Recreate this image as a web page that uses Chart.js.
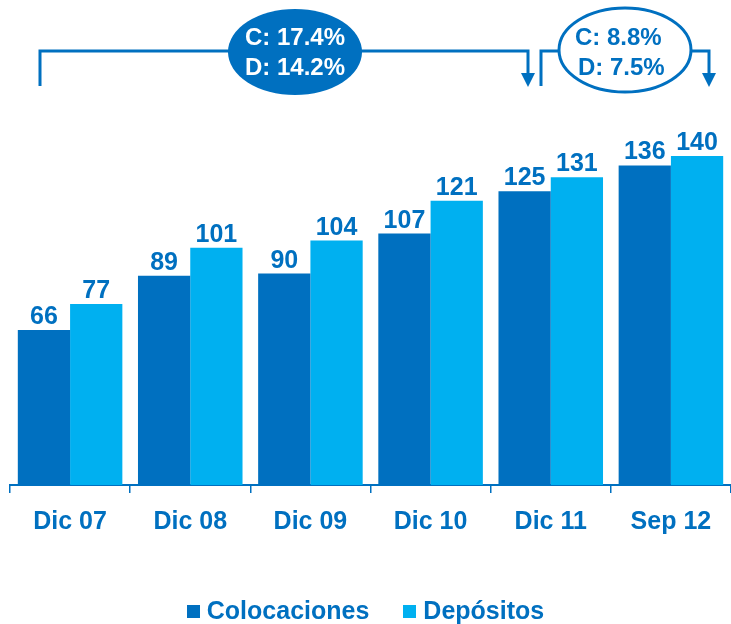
<!DOCTYPE html>
<html>
<head>
<meta charset="utf-8">
<script src="https://cdn.jsdelivr.net/npm/chart.js@4"></script>
<style>
  html,body{margin:0;padding:0;background:#fff;}
  #wrap{position:relative;width:731px;height:624px;}
  #legend{position:absolute;left:0;top:596px;width:731px;display:flex;justify-content:center;gap:34px;
    font:bold 25px "Liberation Sans",Arial,sans-serif;color:#0070C0;}
  #legend span{display:flex;align-items:center;}
  #legend i{display:inline-block;width:13px;height:13px;margin-right:7px;margin-top:2px;}
</style>
</head>
<body>
<div id="wrap">
  <canvas id="chart" width="731" height="624"></canvas>
  <div id="legend">
    <span><i style="background:#0070C0"></i>Colocaciones</span>
    <span><i style="background:#00B0F0"></i>Depósitos</span>
  </div>
</div>
<script>
const labels = ["Dic 07","Dic 08","Dic 09","Dic 10","Dic 11","Sep 12"];
const colocaciones = [66, 89, 90, 107, 125, 136];
const depositos = [77, 101, 104, 121, 131, 140];
const growth1 = ["C: 17.4%","D: 14.2%"];
const growth2 = ["C: 8.8%","D: 7.5%"];

const BLUE="#0070C0", LIGHT="#00B0F0";
const FONT='"Liberation Sans", Arial, sans-serif';

const valueLabels = {
  id:"valueLabels",
  afterDatasetsDraw(chart){
    const ctx=chart.ctx;
    ctx.save();
    ctx.font="bold 25px "+FONT;
    ctx.fillStyle=BLUE; ctx.textAlign="center"; ctx.textBaseline="alphabetic";
    chart.data.datasets.forEach((ds,i)=>{
      chart.getDatasetMeta(i).data.forEach((bar,j)=>{
        ctx.fillText(ds.data[j], bar.x, bar.y-6);
      });
    });
    ctx.restore();
  }
};

const growthNotes = {
  id:"growthNotes",
  afterDraw(chart){
    const ctx=chart.ctx;
    ctx.save();
    ctx.strokeStyle=BLUE; ctx.fillStyle=BLUE; ctx.lineWidth=3;
    const arrow=(x,y)=>{ ctx.beginPath(); ctx.moveTo(x-7,y-14); ctx.lineTo(x+7,y-14); ctx.lineTo(x,y); ctx.closePath(); ctx.fill(); };
    // bracket 1
    ctx.beginPath(); ctx.moveTo(40,86); ctx.lineTo(40,51); ctx.lineTo(528,51); ctx.lineTo(528,75); ctx.stroke();
    arrow(528,87);
    // bracket 2
    ctx.beginPath(); ctx.moveTo(541,86); ctx.lineTo(541,51); ctx.lineTo(709,51); ctx.lineTo(709,75); ctx.stroke();
    arrow(709,87);
    // ellipse 1
    ctx.beginPath(); ctx.ellipse(295,52,67,43,0,0,Math.PI*2); ctx.fill();
    // ellipse 2
    ctx.beginPath(); ctx.ellipse(625,50,66,42,0,0,Math.PI*2); ctx.fillStyle="#fff"; ctx.fill(); ctx.stroke();
    ctx.font="bold 24px "+FONT; ctx.textAlign="left"; ctx.textBaseline="middle";
    ctx.fillStyle="#fff";
    ctx.fillText(growth1[0],245,38); ctx.fillText(growth1[1],245,68);
    ctx.fillStyle=BLUE;
    ctx.fillText(growth2[0],575,38); ctx.fillText(growth2[1],578,68);
    ctx.restore();
  }
};

new Chart(document.getElementById("chart"),{
  type:"bar",
  data:{labels,datasets:[
    {label:"Colocaciones",data:colocaciones,backgroundColor:BLUE},
    {label:"Depósitos",data:depositos,backgroundColor:LIGHT}
  ]},
  options:{
    responsive:false, animation:false,
    layout:{padding:{top:62,left:10,right:0,bottom:73}},
    datasets:{bar:{categoryPercentage:0.87,barPercentage:1}},
    plugins:{legend:{display:false},tooltip:{enabled:false}},
    scales:{
      x:{
        grid:{offset:true,drawOnChartArea:false,color:BLUE,tickLength:8,lineWidth:1.5},
        border:{color:BLUE,width:2},
        ticks:{color:BLUE,padding:14,font:{family:FONT,size:25,weight:"bold"}}
      },
      y:{display:false,min:0,max:180}
    }
  },
  plugins:[valueLabels,growthNotes]
});
</script>
</body>
</html>
